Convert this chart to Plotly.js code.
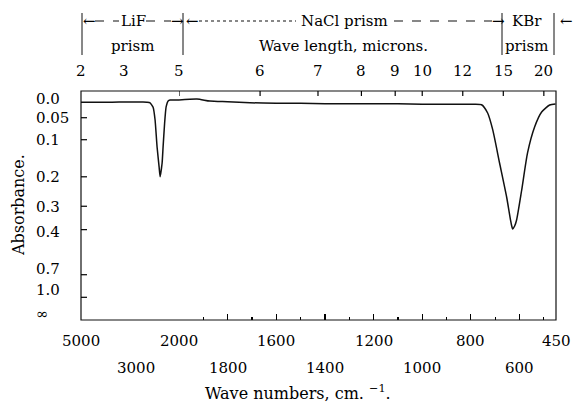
<!DOCTYPE html>
<html><head><meta charset="utf-8">
<script src="https://cdn.plot.ly/plotly-3.0.1.min.js"></script>
<style>html,body{margin:0;padding:0;background:#fff}#chart{width:574px;height:406px}</style>
</head><body><div id="chart"></div>
<script>
// ---- data ----
const waveNumbers = [5000, 4500, 4000, 3500, 3000, 2800, 2700, 2621, 2548, 2501, 2455, 2409, 2387, 2342, 2321, 2288, 2257, 2214, 2173, 2100, 2000,
  1926, 1873, 1800, 1708, 1600, 1500, 1400, 1300, 1200, 1100, 1000, 900, 800, 756, 731, 710, 682, 653, 637, 633, 628, 620, 612, 591, 567, 538, 509, 476, 452];
const absorbance = [0.018, 0.018, 0.018, 0.0175, 0.0175, 0.0175, 0.018, 0.019, 0.028, 0.055, 0.118, 0.171, 0.200, 0.160, 0.118, 0.062, 0.028, 0.0156, 0.0136, 0.0136, 0.0136,
  0.0116, 0.0156, 0.017, 0.019, 0.020, 0.020, 0.021, 0.021, 0.021, 0.021, 0.022, 0.022, 0.022, 0.023, 0.040, 0.077, 0.160, 0.266, 0.356, 0.378, 0.397, 0.383, 0.356, 0.242, 0.133, 0.0705, 0.038, 0.0236, 0.0216];

const absTicks = [0, 0.05, 0.1, 0.2, 0.3, 0.4, 0.7, 1.0, Infinity];
const absTickText = ["0.0", "0.05", "0.1", "0.2", "0.3", "0.4", "0.7", "1.0", "∞"];
const waveNumberRow1 = [5000, 2000, 1600, 1200, 800, 450];
const waveNumberRow2 = [3000, 1800, 1400, 1000, 600];
const lifMinorTicks = [4000, 2500];
const wavelengthTicks = [2, 3, 5, 6, 7, 8, 9, 10, 12, 15, 20];

// ---- layout helpers (plot area 81..556 x 91..320 px) ----
const PL = 81, PR = 556, PT = 91, PB = 320;
const xp = px => (px - PL) / (PR - PL);
const yp = py => (PB - py) / (PB - PT);
const SPLIT = 98 / 475;           // LiF (log-like) part / NaCl-KBr (linear) part
const FONT = {family: "DejaVu Serif", size: 15, color: "#000"};
const absLabelShift = [-6, 0, 0, 0, -1, -2, 6, 7, 6];   // label offsets (px) as printed
const toT = a => Math.pow(10, -a);
function wnRef(w, ax) { return w > 2000 ? {xref: ax[0], x: Math.log10(w)} : {xref: ax[1], x: w}; }

// ---- traces ----
const lifX = [], lifY = [], naclX = [], naclY = [];
waveNumbers.forEach((w, i) => {
  if (w >= 2000) { lifX.push(w); lifY.push(toT(absorbance[i])); }
  if (w <= 2000) { naclX.push(w); naclY.push(toT(absorbance[i])); }
});
const traces = [
  {x: lifX, y: lifY, xaxis: "x", yaxis: "y", mode: "lines", line: {color: "#111", width: 1.5, shape: "spline", smoothing: 0.4}, hoverinfo: "skip"},
  {x: naclX, y: naclY, xaxis: "x3", yaxis: "y", mode: "lines", line: {color: "#111", width: 1.5, shape: "spline", smoothing: 0.6}, hoverinfo: "skip"}
];

// ---- annotations ----
const ann = [];
const bottomAx = ["x", "x3"], topAx = ["x2", "x4"];
waveNumberRow1.forEach(w => ann.push(Object.assign(wnRef(w, bottomAx), {yref: "paper", y: yp(341), text: String(w), showarrow: false, font: FONT, yanchor: "middle"})));
waveNumberRow2.forEach(w => ann.push(Object.assign(wnRef(w, bottomAx), {yref: "paper", y: yp(368), text: String(w), showarrow: false, font: FONT, yanchor: "middle"})));
wavelengthTicks.forEach(l => ann.push(Object.assign(wnRef(10000 / l, topAx), {yref: "paper", y: yp(71), text: String(l), showarrow: false, font: FONT, yanchor: "middle"})));
absTicks.forEach((a, i) => ann.push({xref: "paper", x: xp(34), xanchor: "left", yref: "y", y: toT(a), yanchor: "middle", yshift: absLabelShift[i],
  text: absTickText[i], showarrow: false, font: FONT}));
const txt = (px, py, t, extra) => ann.push(Object.assign({xref: "paper", yref: "paper", x: xp(px), y: yp(py), text: t, showarrow: false, font: FONT, xanchor: "center", yanchor: "middle"}, extra || {}));
txt(18, 205, "Absorbance.", {textangle: -90, font: Object.assign({}, FONT, {size: 16})});
txt(298, 392, "Wave numbers, cm. <sup>−1</sup>.", {font: Object.assign({}, FONT, {size: 16})});
txt(89, 21, "←"); txt(133, 21, "LiF"); txt(177, 21, "→");
txt(192, 21, "←"); txt(344, 21, "NaCl prism"); txt(498, 21, "→");
txt(527, 21, "KBr"); txt(566, 21, "←");
txt(133, 46, "prism"); txt(343, 46, "Wave length, microns."); txt(527, 46, "prism");

// ---- shapes: frame, header rules, ticks ----
const K = {color: "#000", width: 1.2};
const shapes = [{type: "rect", xref: "paper", yref: "paper", x0: 0, x1: 1, y0: 0, y1: 1, line: {color: "#111", width: 1.2}}];
[82, 183, 502, 554].forEach(px => shapes.push({type: "line", xref: "paper", yref: "paper", x0: xp(px), x1: xp(px), y0: yp(13), y1: yp(55), line: {color: "#111", width: 1}}));
[[95, 119, "dash"], [146, 171, "dash"], [199, 296, "dot"], [394, 492, "dash"]].forEach(s =>
  shapes.push({type: "line", xref: "paper", yref: "paper", x0: xp(s[0]), x1: xp(s[1]), y0: yp(21), y1: yp(21), line: {color: "#111", width: 1.2, dash: s[2]}}));
// left (absorbance) ticks, pointing into the plot
absTicks.slice(1, -1).forEach(a => shapes.push({type: "line", xref: "paper", xsizemode: "pixel", xanchor: 0, x0: 0, x1: 6,
  yref: "y", y0: toT(a), y1: toT(a), line: K}));
// top (wavelength) ticks
wavelengthTicks.slice(1).forEach(l => { const r = wnRef(10000 / l, topAx);
  shapes.push({type: "line", xref: r.xref, x0: r.x, x1: r.x, yref: "paper", ysizemode: "pixel", yanchor: 1, y0: 0, y1: -5, line: K}); });
// bottom ticks of the LiF part
[3000].forEach(w => { const r = wnRef(w, bottomAx);
  shapes.push({type: "line", xref: r.xref, x0: r.x, x1: r.x, yref: "paper", ysizemode: "pixel", yanchor: 0, y0: 0, y1: 6, line: K}); });
lifMinorTicks.forEach(w => { const r = wnRef(w, bottomAx);
  shapes.push({type: "line", xref: r.xref, x0: r.x, x1: r.x, yref: "paper", ysizemode: "pixel", yanchor: 0, y0: 0, y1: 3, line: K}); });

const base = {showgrid: false, zeroline: false, showline: false, showticklabels: false, ticks: ""};
const layout = {
  width: 574, height: 406, autosize: false,
  margin: {l: PL, r: 574 - PR, t: PT, b: 406 - PB, pad: 0},
  paper_bgcolor: "#fff", plot_bgcolor: "rgba(0,0,0,0)", showlegend: false,
  xaxis: Object.assign({}, base, {type: "log", domain: [0, SPLIT], range: [Math.log10(5000), Math.log10(2000)], anchor: "y"}),
  xaxis3: Object.assign({}, base, {domain: [SPLIT, 1], range: [2000, 450], anchor: "y",
    ticks: "inside", tickcolor: "#000", tickwidth: 1.2, tickmode: "linear", tick0: 0, dtick: 200, ticklen: 6,
    minor: {dtick: 100, tick0: 0, ticks: "inside", ticklen: 3, tickcolor: "#000", tickwidth: 1.2}}),
  xaxis2: Object.assign({}, base, {type: "log", overlaying: "x", side: "top", anchor: "y", domain: [0, SPLIT], range: [Math.log10(5000), Math.log10(2000)]}),
  xaxis4: Object.assign({}, base, {overlaying: "x3", side: "top", anchor: "y", domain: [SPLIT, 1], range: [2000, 450]}),
  yaxis: Object.assign({}, base, {range: [0, 1.009], anchor: "x"}),
  annotations: ann, shapes: shapes
};
Plotly.newPlot("chart", traces, layout, {staticPlot: true});
</script></body></html>
